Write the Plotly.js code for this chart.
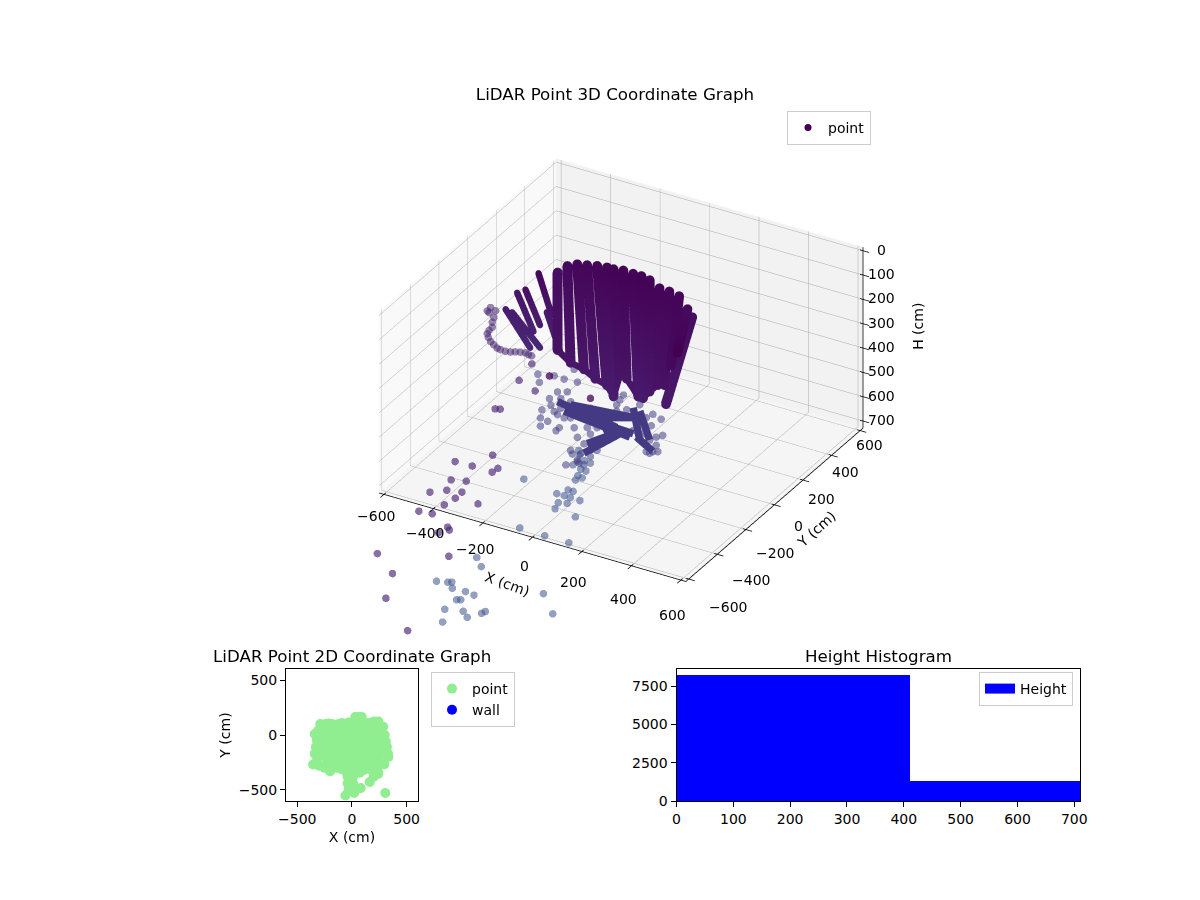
<!DOCTYPE html>
<html>
<head>
<meta charset="utf-8">
<script src="https://cdn.plot.ly/plotly-3.0.1.min.js"></script>
<style>body{margin:0;background:#fff}</style>
</head>
<body>
<div id="chart" style="width:1200px;height:900px"></div>
<script>
// canopy strands, top then bottom of each, null between
var canopyX = [-310,-108,null,-271,-56,null,-232,-3,null,-193,42,null,-153,88,null,-114,115,null,-88,140,null,-49,167,null,-10,213,null,23,232,null,56,258,null,95,291,null,134,317,null,173,343,null,206,369,null,225,323,null];
var canopyY = [100,-250,null,100,-250,null,100,-250,null,100,-250,null,100,-250,null,100,-250,null,100,-250,null,100,-250,null,100,-250,null,100,-250,null,100,-250,null,100,-250,null,100,-250,null,100,-250,null,100,-250,null,100,-250,null];
var canopyH = [116,159,null,75,194,null,54,203,null,44,227,null,33,238,null,26,276,null,24,179,null,16,183,null,16,242,null,14,242,null,20,205,null,40,166,null,40,157,null,46,66,null,89,3,null,116,235,null];

// lower rim of the canopy
var rimX = [-108,-56,-3,42,88,115,140,167,213,232,258,291,317];
var rimH = [159,194,203,227,238,276,179,183,242,242,205,166,157];

// fingers on the left of the canopy
var fingerX = [-328,-276,null,-380,-322,null,-413,-348,null,-459,-361,null,-433,-322,null,-295,-243,null];
var fingerY = [0,0,null,0,0,null,0,0,null,0,0,null,0,0,null,0,0,null];
var fingerH = [65,222,null,152,281,null,177,317,null,262,390,null,266,376,null,217,361,null];

// dense blob round the trunk
var blobX = [-82,180,null,-56,193,null,-3,140,null,193,219,null,49,101,null,206,271,null,-108,127,null,-42,193,null,23,206,null,10,154,null,23,101,null,219,258,null];
var blobH = [407,424,null,371,337,null,556,424,null,296,423,null,361,451,null,414,452,null,376,402,null,407,405,null,398,333,null,511,405,null,534,438,null,301,409,null];

// thin ring on the left of the canopy
var ringX = [-403,-390,-396,-416,-403,-377,-344,-305,-265,-240,-416,-409,-396,-409,-412,-390,-364,-324,-285,-253,-383];
var ringH = [114,151,194,228,257,275,277,266,256,260,133,137,173,212,243,266,277,273,260,259,121];

// single returns
var purpleX = [-336,-366,-515,-447,-345,-368,-531,-471,-548,-488,-615,-514,-558,-424,-659,-606,-545,-538,-581,-540,-824,-764,-790,-704,-261,-197,-356,-210];
var purpleH = [487,691,770,765,739,763,853,837,902,889,934,924,967,916,1029,1021,1056,1066,1092,1177,1265,1328,1441,1547,340,362,493,253];

var blueX = [-242,-258,-159,-63,-37,-19,-118,-105,-70,-111,-57,-81,-66,-46,-37,-27,-10,5,-16,-23,-47,-1,23,-24,-20,
  -429,-411,-589,-544,-528,-526,-474,-440,-509,-493,-164,-556,-483,-467,-410,-395,-565,-127];
var blueH = [748,959,957,953,835,760,829,799,790,763,761,761,732,731,680,658,662,628,627,604,620,586,588,551,569,
  1143,1175,1299,1287,1281,1306,1302,1305,1349,1343,1202,1405,1388,1408,1371,1358,1462,1274];

var midX = [-176,-170,-176,-114,-147,-101,-56,-49,-75,-29,-3,304,310,284,265,232,271,245,291,258,-180,-186,-140,-108,-69,-29,-82,-42,-121,-134,-95,-56,-16,154,140,271,245,219,-29,23,49,23,
  -3,23,10,49,88,127,167,193,232,258,284,-16,-29,-42,-82,-108,-121,-95,-56,-29,23,127];
var midH = [468,432,502,500,472,483,562,575,630,593,604,305,371,387,346,351,453,462,446,464,320,288,374,335,321,266,272,217,272,400,399,426,398,256,281,296,319,274,498,507,525,561,
  516,466,443,430,375,334,313,391,392,409,421,562,600,462,435,430,422,358,358,375,357,307];

var darkX = [23,101,-140];
var darkH = [316,431,279];

// 2D footprint
var flatX = [30,60,90,200,240,
  -240,-180,-120,-60,0,60,120,180,240,
  -270,-200,-130,-60,10,80,150,220,270,
  -320,-250,-180,-110,-40,30,100,170,240,265,
  -300,-230,-160,-90,-20,50,120,190,260,280,
  -300,-230,-160,-90,-20,50,120,190,260,310,
  -310,-240,-170,-100,-30,40,110,180,250,333,
  -355,-300,-230,-160,-90,-20,50,120,190,260,295,
  -170,-100,-30,40,110,180,240,
  -40,10,240,-40,10,-30,20,
  80,162,305,-60,20,
  -290,-210,-90,-30,30,150,210,285,
  -340,-310,300,-320,310,-330,320,-340,330,-320,
  -250,-130,-10,110,230,-200,-50,70,200];
var flatY = [165,165,165,125,125,
  100,100,100,100,100,100,100,100,100,
  40,40,40,40,40,40,40,40,40,
  -20,-20,-20,-20,-20,-20,-20,-20,-20,-20,
  -80,-80,-80,-80,-80,-80,-80,-80,-80,-80,
  -140,-140,-140,-140,-140,-140,-140,-140,-140,-140,
  -200,-200,-200,-200,-200,-200,-200,-200,-200,-200,
  -270,-280,-260,-260,-260,-260,-260,-260,-260,-260,-270,
  -300,-310,-320,-320,-320,-320,-355,
  -380,-380,-340,-440,-440,-490,-510,
  -485,-430,-530,-552,-530,
  100,105,110,115,115,110,110,75,
  10,40,0,-50,-60,-110,-110,-170,-170,-230,
  -300,-300,-300,-300,-310,-330,-340,-345,-380];

// histogram bins
var histEdges = [0,410,710];
var histCounts = [8200,1320];

// tick labels of the 3D box
var xTicks = [-600,-400,-200,0,200,400,600];
var yTicks = [-600,-400,-200,0,200,400,600];
var hTicks = [0,100,200,300,400,500,600,700];

var TXT = '#000';
var FONT = 'DejaVu Sans';
var XY = 620, HI = 729, LO = -15;   // box limits
var CAM = 1.45;
var CMAX = 3500;

// box: elev 30, azim -60. orthographic scale goes through the aspect ratio
var boxZoom = 1.337, boxZ = 0.59;
var boxView = {
  eye: {x: 0.433*CAM, y: -0.75*CAM, z: 0.5*CAM},
  center: {x: 0, y: 0, z: 0}, up: {x: 0, y: 0, z: 1},
  projection: {type: 'orthographic'}
};
// cloud: slightly steeper, stands in for the perspective the box lacks
var cloudZoom = 1.36, cloudZ = 0.60;
var cloudView = {
  eye: {x: 0.41*CAM, y: -0.709*CAM, z: 0.574*CAM},
  center: {x: 0, y: 0, z: 0}, up: {x: 0, y: 0, z: 1},
  projection: {type: 'orthographic'}
};
var dom3d = {x: [356/1200, 886/1200], y: [265/900, 795/900]};

function axis3d(range, step, bg) {
  return {
    range: range, dtick: step, tick0: 0, autorange: false,
    title: {text: ''}, showticklabels: false,
    showgrid: true, gridcolor: '#a8a8a8', gridwidth: 1,
    showbackground: true, backgroundcolor: bg,
    showline: false, ticks: '',
    zeroline: false, showspikes: false
  };
}
function hidden3d(range) {
  return {range: range, autorange: false, visible: false, showspikes: false};
}
function same(n, v) {
  var a = [];
  for (var i = 0; i < n; i++) a.push(v);
  return a;
}
function pts(xs, ylevel, hs, col, op) {
  return {
    type: 'scatter3d', mode: 'markers', scene: 'scene2',
    x: xs, y: same(xs.length, ylevel), z: hs, showlegend: false,
    marker: {size: 4.4, color: col, opacity: op, line: {width: 0}},
    hoverinfo: 'skip'
  };
}
function strands(xs, ys, hs, w) {
  return {
    type: 'scatter3d', mode: 'lines+markers', scene: 'scene2', x: xs, y: ys, z: hs, showlegend: false, hoverinfo: 'skip',
    line: {width: w, color: hs, colorscale: 'Viridis', cmin: 0, cmax: CMAX},
    marker: {size: w*0.28, color: hs, colorscale: 'Viridis', cmin: 0, cmax: CMAX, line: {width: 0}}
  };
}

// axis lines and tick stubs of the box
var frameX = [-XY, XY, XY, XY, null], frameY = [-XY, -XY, XY, XY, null], frameH = [HI, HI, HI, LO, null];
xTicks.forEach(function (t) { frameX.push(t, t, null); frameY.push(-XY-25, -XY+12, null); frameH.push(HI, HI, null); });
yTicks.forEach(function (t) { frameX.push(XY-12, XY+25, null); frameY.push(t, t, null); frameH.push(HI, HI, null); });
hTicks.forEach(function (t) { frameX.push(XY-12, XY+25, null); frameY.push(XY, XY, null); frameH.push(t, t, null); });

var traces = [
  // the box scene needs one trace of its own to be drawn
  {type: 'scatter3d', mode: 'markers', scene: 'scene', x: [0], y: [0], z: [350], showlegend: false, hoverinfo: 'skip',
   marker: {size: 1, opacity: 0}},
  strands(canopyX, canopyY, canopyH, 20),
  strands(rimX, same(rimX.length, -250), rimH, 13),
  strands(fingerX, fingerY, fingerH, 13),
  {type: 'scatter3d', mode: 'lines', scene: 'scene2', x: blobX, y: same(blobX.length, -250), z: blobH, showlegend: false, hoverinfo: 'skip',
   line: {width: 15, color: '#443a83'}},
  pts(ringX, -200, ringH, '#46246f', 0.55),
  pts(purpleX, -250, purpleH, '#482475', 0.65),
  pts(blueX, -250, blueH, '#3b528b', 0.55),
  pts(midX, -250, midH, '#433e85', 0.55),
  pts(darkX, -250, darkH, '#440154', 0.75),
  {type: 'scatter3d', mode: 'lines', scene: 'scene3', x: frameX, y: frameY, z: frameH, showlegend: false, hoverinfo: 'skip',
   line: {width: 1.5, color: '#000'}},
  {type: 'scatter', mode: 'markers', x: [null], y: [null], xaxis: 'x', yaxis: 'y', name: 'point', legend: 'legend', hoverinfo: 'skip',
   marker: {size: 7, color: '#440154'}},
  {type: 'scatter', mode: 'markers', x: flatX, y: flatY, xaxis: 'x', yaxis: 'y', name: 'point', legend: 'legend2', hoverinfo: 'skip',
   marker: {size: 10, color: '#90ee90'}},
  {type: 'scatter', mode: 'markers', x: [null], y: [null], xaxis: 'x', yaxis: 'y', name: 'wall', legend: 'legend2', hoverinfo: 'skip',
   marker: {size: 10, color: '#0000ff'}},
  {type: 'bar', x: [(histEdges[0]+histEdges[1])/2, (histEdges[1]+histEdges[2])/2], y: histCounts,
   width: [histEdges[1]-histEdges[0], histEdges[2]-histEdges[1]], xaxis: 'x2', yaxis: 'y2', showlegend: false,
   hoverinfo: 'skip', marker: {color: '#0000ff', line: {width: 0}}},
  {type: 'scatter', mode: 'lines', x: [null], y: [null], xaxis: 'x2', yaxis: 'y2', name: 'Height', legend: 'legend3', hoverinfo: 'skip',
   line: {width: 10, color: '#0000ff'}}
];

function axis2d(dom, range, extra) {
  var a = {
    domain: dom, range: range, showgrid: false, zeroline: false, showline: true, mirror: true,
    linecolor: '#000', linewidth: 1, ticks: 'outside', ticklen: 5, tickcolor: '#000',
    tickfont: {family: FONT, size: 14, color: TXT}
  };
  for (var k in extra) a[k] = extra[k];
  return a;
}
function legendBox(x, y, anchor) {
  return {
    x: x, y: y, xanchor: anchor, yanchor: 'top', bgcolor: 'rgba(255,255,255,0.8)', bordercolor: '#cccccc', borderwidth: 1,
    font: {family: FONT, size: 14, color: TXT}
  };
}
function subTitle(text, x, y) {
  return {text: text, x: x, y: y, xref: 'paper', yref: 'paper', xanchor: 'center', yanchor: 'middle', showarrow: false,
    font: {family: FONT, size: 16.7, color: TXT}};
}
function boxLabel(text, x, y, z, dx, dy, angle) {
  return {text: text, x: x, y: y, z: z, xshift: dx, yshift: dy, textangle: angle || 0, showarrow: false,
    xanchor: 'center', yanchor: 'middle', font: {family: FONT, size: 14, color: TXT}};
}
function minus(t) { return String(t).replace('-', '\u2212'); }

var labels3d = [];
// the box has no perspective, so the labels drift a little to sit where the reference has them
xTicks.forEach(function (t) { labels3d.push(boxLabel(minus(t), t, -XY, HI, -8, -28.5 - t*0.0108)); });
yTicks.forEach(function (t) { labels3d.push(boxLabel(minus(t), XY, t, HI, 24 - t*0.025, -21 + t*0.0117)); });
hTicks.forEach(function (t) { labels3d.push(boxLabel(String(t), XY, XY, t, 19, 1)); });
labels3d.push(boxLabel('X (cm)', 0, -XY, HI, -25, -47, 20));
labels3d.push(boxLabel('Y (cm)', XY, 0, HI, 42, -24, -42));
labels3d.push(boxLabel('H (cm)', XY, XY, 350, 55, 10, -90));

var layout = {
  width: 1200, height: 900, margin: {l: 0, r: 0, t: 0, b: 0},
  paper_bgcolor: '#fff', plot_bgcolor: '#fff', font: {family: FONT, size: 14, color: TXT},
  title: {text: 'LiDAR Point 3D Coordinate Graph', x: 615/1200, y: 1-94/900, xanchor: 'center', yanchor: 'middle',
    font: {family: FONT, size: 16.7, color: TXT}},
  scene: {
    domain: dom3d, aspectmode: 'manual', aspectratio: {x: boxZoom, y: boxZoom, z: boxZoom*boxZ}, camera: boxView,
    xaxis: axis3d([-XY, XY], 200, '#f9f9f9'),
    yaxis: axis3d([-XY, XY], 200, '#f2f2f2'),
    zaxis: axis3d([HI, LO], 100, '#f5f5f5'),
    annotations: labels3d
  },
  // same box, four times wider, for returns lying outside the axes
  scene2: {
    domain: dom3d, aspectmode: 'manual', aspectratio: {x: 4*cloudZoom, y: 4*cloudZoom, z: 4*cloudZoom*cloudZ}, camera: cloudView,
    bgcolor: 'rgba(0,0,0,0)',
    xaxis: hidden3d([-2480, 2480]), yaxis: hidden3d([-2480, 2480]), zaxis: hidden3d([1845, -1131])
  },
  // axis lines and tick stubs poke out of the box too
  scene3: {
    domain: dom3d, aspectmode: 'manual', aspectratio: {x: 4*boxZoom, y: 4*boxZoom, z: 4*boxZoom*boxZ}, camera: boxView,
    bgcolor: 'rgba(0,0,0,0)',
    xaxis: hidden3d([-2480, 2480]), yaxis: hidden3d([-2480, 2480]), zaxis: hidden3d([1845, -1131])
  },
  xaxis: axis2d([286/1200, 418/1200], [-603, 604], {anchor: 'y', dtick: 500, title: {text: 'X (cm)', font: {family: FONT, size: 14, color: TXT}, standoff: 6}}),
  yaxis: axis2d([99/900, 231/900], [-603, 604], {anchor: 'x', dtick: 500, title: {text: 'Y (cm)', font: {family: FONT, size: 14, color: TXT}, standoff: 4}}),
  xaxis2: axis2d([676.5/1200, 1080/1200], [0, 710], {anchor: 'y2', dtick: 100}),
  yaxis2: axis2d([99/900, 231/900], [0, 8610], {anchor: 'x2', dtick: 2500}),
  bargap: 0,
  legend: legendBox(787/1200, 1-111/900, 'left'),
  legend2: legendBox(431/1200, 1-672/900, 'left'),
  legend3: legendBox(1073/1200, 1-672/900, 'right'),
  annotations: [
    subTitle('LiDAR Point 2D Coordinate Graph', 352/1200, 1-656/900),
    subTitle('Height Histogram', 878/1200, 1-656/900)
  ]
};

Plotly.newPlot('chart', traces, layout, {displayModeBar: false});
</script>
</body>
</html>
